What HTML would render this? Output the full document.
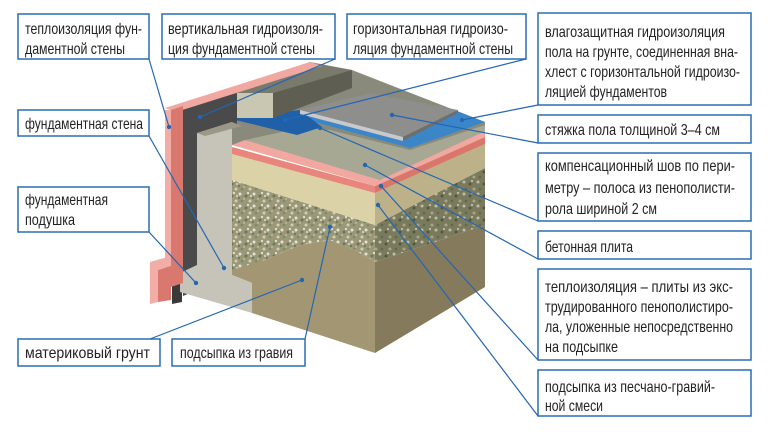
<!DOCTYPE html>
<html><head><meta charset="utf-8"><style>html,body{margin:0;padding:0;background:#fff}svg{display:block}</style></head><body>
<svg width="775" height="439" viewBox="0 0 775 439" xmlns="http://www.w3.org/2000/svg">
<defs>
<pattern id="gr" width="14" height="12" patternUnits="userSpaceOnUse">
<rect width="14" height="12" fill="#9a9878"/>
<circle cx="2" cy="2" r="1.5" fill="#e4e2d6"/><circle cx="8" cy="4" r="1.4" fill="#687657"/>
<circle cx="12" cy="9" r="1.5" fill="#d5cdb0"/><circle cx="4" cy="9" r="1.3" fill="#7c8a68"/>
<circle cx="10" cy="1" r="1" fill="#f3f2ec"/><circle cx="6" cy="7" r="1" fill="#c4b594"/>
<circle cx="13" cy="4" r="0.9" fill="#f0efe8"/><circle cx="1" cy="6" r="0.9" fill="#596648"/>
</pattern>
<pattern id="gr2" width="14" height="12" patternUnits="userSpaceOnUse">
<rect width="14" height="12" fill="#7a7a5c"/>
<circle cx="2" cy="2" r="1.5" fill="#bdbbab"/><circle cx="8" cy="4" r="1.4" fill="#4c573f"/>
<circle cx="12" cy="9" r="1.5" fill="#aaa488"/><circle cx="4" cy="9" r="1.3" fill="#5d6a50"/>
<circle cx="10" cy="1" r="1" fill="#cfcdc2"/>
</pattern>
</defs>
<polygon points="183,106 310,62 352,70 485,122 485,135 375,185 232,145 197,133" fill="#8a8a7c"/>
<polygon points="232,268 265,260 300,245 330,240 355,250 375,262 375,353 252,313 252,283 232,275" fill="#a39773"/>
<polygon points="375,262 485,225 485,287 375,353" fill="#857a5b"/>
<polygon points="232,180 375,225 375,262 355,250 330,240 300,245 265,260 232,270" fill="url(#gr)"/>
<polygon points="375,225 485,168 485,225 375,262" fill="url(#gr2)"/>
<polygon points="232,154 375,193 375,225 232,180" fill="#dcd2a8"/>
<polygon points="375,193 485,144 485,168 375,225" fill="#bcb188"/>
<polygon points="245,140 300,128 330,130 410,150 485,125 485,131 380,180" fill="#a6a893"/>
<polygon points="232,145 245,140 380,180 375,186" fill="#f0a8a0"/>
<polygon points="380,180 485,131 485,137 375,186" fill="#f0a8a0"/>
<polygon points="232,147 375,186 375,193 232,154" fill="#e8857c"/>
<polygon points="375,186 485,137 485,144 375,193" fill="#d9776c"/>
<polygon points="300,112 457,111 485,122 410,148 300,118" fill="#3a86c8"/>
<polygon points="227,118 300,110 322,127 297,135" fill="#2060a8"/>
<polygon points="300,110 370,93 458,110 403,137" fill="#8e8e8c"/>
<polygon points="300,110 403,137 403,141 300,114" fill="#c9c9c9"/>
<polygon points="403,137 458,110 458,113 403,141" fill="#6e6e6e"/>
<polygon points="237,93 310,63 352,70 273,93" fill="#7a7a6c"/>
<polygon points="273,93 352,70 352,88 273,118" fill="#5e5e52"/>
<rect x="237" y="93" width="36" height="25" fill="#c9c6b2"/>
<polygon points="183,106 237,90 237,125 197,135 197,290 183,296" fill="#4a4a4a"/>
<polygon points="172,262 182,259 182,302 172,304" fill="#3a3a3a"/>
<polygon points="197,133 232,122 232,275 252,283 252,313 180,292 180,273 197,265" fill="#c6c4b8"/>
<polygon points="197,133 232,122 242,126 205,136" fill="#9a9888"/>
<polygon points="165,108 310,62 322,66 176,112" fill="#f0a8a0"/>
<polygon points="171,110 183,106 183,283 171,287" fill="#d9786e"/>
<rect x="165" y="110" width="6" height="190" fill="#f2aea6"/>
<polygon points="150,262 171,256 171,266 158,270 158,302 150,304" fill="#f2aea6"/>
<polygon points="158,270 171,266 171,300 158,302" fill="#d9786e"/>
<g stroke="#2366b4" stroke-width="1.2" fill="none">
<line x1="149" y1="59" x2="169" y2="127"/>
<line x1="335" y1="59" x2="200" y2="117"/>
<line x1="526" y1="59" x2="285" y2="120"/>
<line x1="538" y1="105" x2="462" y2="120"/>
<line x1="538" y1="143" x2="392" y2="115"/>
<line x1="538" y1="221" x2="320" y2="128"/>
<line x1="538" y1="259" x2="365" y2="165"/>
<line x1="538" y1="360" x2="381" y2="186"/>
<line x1="538" y1="416" x2="378" y2="205"/>
<line x1="149" y1="136" x2="224" y2="268"/>
<line x1="149" y1="232" x2="196" y2="283"/>
<line x1="150" y1="339" x2="302" y2="280"/>
<line x1="305" y1="339" x2="330" y2="227"/>
</g>
<g fill="#2366b4">
<circle cx="169" cy="127" r="2.2"/><circle cx="200" cy="117" r="2.2"/><circle cx="285" cy="120" r="2.2"/>
<circle cx="462" cy="120" r="2.2"/><circle cx="392" cy="115" r="2.2"/><circle cx="320" cy="128" r="2.2"/>
<circle cx="365" cy="165" r="2.2"/><circle cx="381" cy="186" r="2.2"/><circle cx="378" cy="205" r="2.2"/>
<circle cx="224" cy="268" r="2.2"/><circle cx="196" cy="283" r="2.2"/><circle cx="302" cy="280" r="2.2"/><circle cx="330" cy="227" r="2.2"/>
</g>
<g fill="#fff" stroke="#2a6db5" stroke-width="1.5">
<rect x="18" y="14" width="131" height="45"/>
<rect x="162" y="14" width="173" height="45"/>
<rect x="347" y="14" width="179" height="45"/>
<rect x="538" y="13" width="213" height="92"/>
<rect x="538" y="115" width="213" height="28"/>
<rect x="538" y="153" width="213" height="68"/>
<rect x="538" y="231" width="213" height="28"/>
<rect x="538" y="269" width="213" height="91"/>
<rect x="538" y="370" width="213" height="46"/>
<rect x="18" y="110" width="131" height="26"/>
<rect x="18" y="187" width="131" height="45"/>
<rect x="18" y="339" width="142" height="27"/>
<rect x="172" y="339" width="133" height="27"/>
</g>
<g font-family="Liberation Sans, sans-serif" font-size="16" fill="#222">
<text x="25" y="34" textLength="117" lengthAdjust="spacingAndGlyphs">теплоизоляция фун-</text>
<text x="25" y="54" textLength="100" lengthAdjust="spacingAndGlyphs">даментной стены</text>
<text x="168" y="34" textLength="155" lengthAdjust="spacingAndGlyphs">вертикальная гидроизоля-</text>
<text x="168" y="54" textLength="147" lengthAdjust="spacingAndGlyphs">ция фундаментной стены</text>
<text x="353" y="34" textLength="155" lengthAdjust="spacingAndGlyphs">горизонтальная гидроизо-</text>
<text x="353" y="54" textLength="160" lengthAdjust="spacingAndGlyphs">ляция фундаментной стены</text>
<text x="545" y="37" textLength="180" lengthAdjust="spacingAndGlyphs">влагозащитная гидроизоляция</text>
<text x="545" y="57" textLength="193" lengthAdjust="spacingAndGlyphs">пола на грунте, соединенная вна-</text>
<text x="545" y="77" textLength="195" lengthAdjust="spacingAndGlyphs">хлест с горизонтальной гидроизо-</text>
<text x="545" y="97" textLength="122" lengthAdjust="spacingAndGlyphs">ляцией фундаментов</text>
<text x="545" y="135" textLength="175" lengthAdjust="spacingAndGlyphs">стяжка пола толщиной 3–4 см</text>
<text x="545" y="171" textLength="190" lengthAdjust="spacingAndGlyphs">компенсационный шов по пери-</text>
<text x="545" y="193" textLength="190" lengthAdjust="spacingAndGlyphs">метру – полоса из пенополисти-</text>
<text x="545" y="214" textLength="112" lengthAdjust="spacingAndGlyphs">рола шириной 2 см</text>
<text x="545" y="252" textLength="88" lengthAdjust="spacingAndGlyphs">бетонная плита</text>
<text x="545" y="292" textLength="188" lengthAdjust="spacingAndGlyphs">теплоизоляция – плиты из экс-</text>
<text x="545" y="312" textLength="188" lengthAdjust="spacingAndGlyphs">трудированного пенополистиро-</text>
<text x="545" y="332" textLength="188" lengthAdjust="spacingAndGlyphs">ла, уложенные непосредственно</text>
<text x="545" y="352" textLength="73" lengthAdjust="spacingAndGlyphs">на подсыпке</text>
<text x="545" y="392" textLength="170" lengthAdjust="spacingAndGlyphs">подсыпка из песчано-гравий-</text>
<text x="545" y="411" textLength="58" lengthAdjust="spacingAndGlyphs">ной смеси</text>
<text x="25" y="129" textLength="118" lengthAdjust="spacingAndGlyphs">фундаментная стена</text>
<text x="25" y="205" textLength="83" lengthAdjust="spacingAndGlyphs">фундаментная</text>
<text x="25" y="225" textLength="50" lengthAdjust="spacingAndGlyphs">подушка</text>
<text x="25" y="358" textLength="125" lengthAdjust="spacingAndGlyphs">материковый грунт</text>
<text x="180" y="358" textLength="113" lengthAdjust="spacingAndGlyphs">подсыпка из гравия</text>
</g>
</svg>
</body></html>
